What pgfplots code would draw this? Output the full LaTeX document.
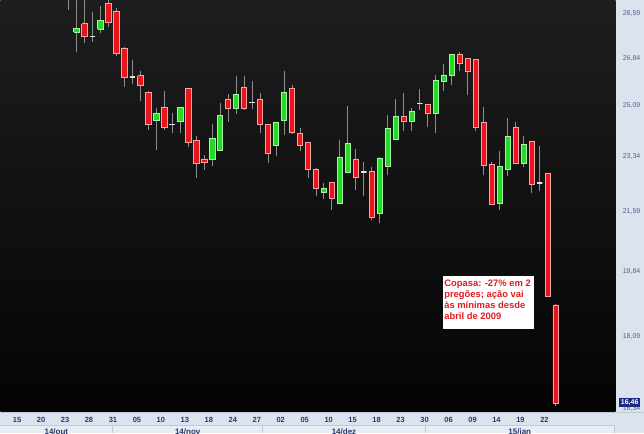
\documentclass[border=0pt]{standalone}
\usepackage{fontspec}
\setmainfont{Liberation Sans}
\usepackage{pgfplots}
\pgfplotsset{compat=1.18}
\definecolor{panel}{HTML}{DDE3EE}
\definecolor{cell}{HTML}{E8ECF4}
\definecolor{cellline}{HTML}{C2CAD8}
\definecolor{daytxt}{HTML}{28396C}
\definecolor{ytxt}{HTML}{53618A}
\definecolor{upfill}{HTML}{22DC22}
\definecolor{updraw}{HTML}{A6F2A6}
\definecolor{dnfill}{HTML}{E8161C}
\definecolor{dndraw}{HTML}{F5A3A3}
\definecolor{dojic}{HTML}{E2E2E2}
\definecolor{wickc}{HTML}{8E8E8E}
\definecolor{navybox}{HTML}{1C2B7E}
\definecolor{notered}{HTML}{E3191E}
\definecolor{bgtop}{HTML}{1E1E1E}
\definecolor{bgbot}{HTML}{040404}
\pgfplotsset{
  cwick/.style={draw=wickc, line width=1pt},
  cup/.style={fill=upfill, draw=updraw, line width=0.7pt},
  cdn/.style={fill=dnfill, draw=dndraw, line width=0.7pt},
  cdoji/.style={draw=dojic, line width=1.4pt},
}
% candle: index, open, high, low, close, style
\newcommand\cndl[6]{%
  \pgfmathsetmacro\cxl{#1-0.34}%
  \pgfmathsetmacro\cxr{#1+0.34}%
  \edef\cndltmp{%
    \noexpand\addplot[cwick] coordinates {(#1,#4) (#1,#3)};%
    \noexpand\addplot[#6] coordinates {(\cxl,#2) (\cxr,#2) (\cxr,#5) (\cxl,#5) (\cxl,#2)};%
  }\cndltmp}
\begin{document}
\begin{tikzpicture}[x=1pt,y=1pt]
\fill[panel] (0,0) rectangle (644,-434);
% month row cells
\fill[cell] (0,-425.5) rectangle (614.5,-434);
\draw[cellline, line width=0.8pt] (0,-412.5) -- (644,-412.5);
\draw[cellline, line width=0.8pt] (0,-425.5) -- (614.5,-425.5);
\draw[cellline, line width=0.8pt] (112.5,-425.5) -- (112.5,-434);
\draw[cellline, line width=0.8pt] (262.5,-425.5) -- (262.5,-434);
\draw[cellline, line width=0.8pt] (425.5,-425.5) -- (425.5,-434);
\draw[cellline, line width=0.8pt] (614.5,-425.5) -- (614.5,-434);
\begin{axis}[
  at={(0,0)}, anchor=north west, scale only axis,
  width=616pt, height=412pt,
  ymode=log, ymin=16.264, ymax=29.161,
  xmin=-2.5, xmax=74.5,
  axis background/.style={top color=bgtop, bottom color=bgbot},
  axis line style={draw=none}, tick style={draw=none}, major tick length=0pt,
  ytick={16.34,18.09,19.84,21.59,23.34,25.09,26.84,28.59},
  yticklabels={{16,34},{18,09},{19,84},{21,59},{23,34},{25,09},{26,84},{28,59}},
  yticklabel pos=right,
  yticklabel style={anchor=west, inner sep=0pt, xshift=7pt, font=\fontsize{7}{8}\selectfont, text=ytxt},
  xtick={0,3,...,66},
  xticklabels={15,20,23,28,31,05,10,13,18,24,27,02,05,10,15,18,23,30,06,09,14,19,22},
  xticklabel style={anchor=center, inner sep=0pt, yshift=-8pt, xshift=-3.3pt, font=\bfseries\fontsize{7.5}{8}\selectfont, text=daytxt},
]
\cndl{6}{29.9}{30.2}{28.75}{29.5}{cdn}
\cndl{7}{27.86}{29.4}{27.07}{28.02}{cup}
\cndl{8}{28.19}{29.4}{27.45}{27.68}{cdn}
\cndl{9}{27.68}{28.67}{27.49}{27.68}{cdoji}
\cndl{10}{27.97}{28.91}{27.82}{28.32}{cup}
\cndl{11}{29.02}{29.2}{28.08}{28.24}{cdn}
\cndl{12}{28.71}{28.82}{26.94}{27.04}{cdn}
\cndl{13}{27.24}{27.26}{25.77}{26.14}{cdn}
\cndl{14}{26.14}{26.79}{25.89}{26.14}{cdoji}
\cndl{15}{26.19}{26.38}{25.28}{25.84}{cdn}
\cndl{16}{25.59}{25.62}{24.24}{24.45}{cdn}
\cndl{17}{24.58}{25.01}{23.58}{24.84}{cup}
\cndl{18}{25.03}{25.64}{24.26}{24.33}{cdn}
\cndl{19}{24.43}{24.84}{24.15}{24.43}{cdoji}
\cndl{20}{24.54}{25.06}{24.15}{25.05}{cup}
\cndl{21}{25.73}{25.75}{23.66}{23.81}{cdn}
\cndl{22}{23.89}{24.03}{22.65}{23.12}{cdn}
\cndl{23}{23.27}{23.41}{22.90}{23.16}{cdn}
\cndl{24}{23.27}{24.46}{23.03}{23.97}{cup}
\cndl{25}{23.56}{25.21}{23.55}{24.75}{cup}
\cndl{26}{25.34}{25.52}{24.54}{25.01}{cdn}
\cndl{27}{25.01}{26.16}{24.82}{25.49}{cup}
\cndl{28}{25.76}{26.19}{24.94}{25.01}{cdn}
\cndl{29}{25.21}{25.98}{24.98}{25.21}{cdoji}
\cndl{30}{25.33}{25.57}{24.15}{24.43}{cdn}
\cndl{31}{24.43}{24.45}{23.14}{23.47}{cdn}
\cndl{32}{23.72}{24.53}{23.36}{24.52}{cup}
\cndl{33}{24.58}{26.35}{24.09}{25.59}{cup}
\cndl{34}{25.71}{25.86}{24.12}{24.15}{cdn}
\cndl{35}{24.12}{24.31}{23.52}{23.73}{cdn}
\cndl{36}{23.83}{23.85}{22.65}{22.92}{cdn}
\cndl{37}{22.94}{22.97}{22.07}{22.33}{cdn}
\cndl{38}{22.19}{22.49}{21.99}{22.33}{cup}
\cndl{39}{22.51}{22.53}{21.66}{22.02}{cdn}
\cndl{40}{21.85}{23.90}{21.84}{23.34}{cup}
\cndl{41}{22.83}{25.09}{22.82}{23.78}{cup}
\cndl{42}{23.27}{23.60}{22.26}{22.68}{cdn}
\cndl{43}{22.85}{23.16}{22.07}{22.85}{cdoji}
\cndl{44}{22.86}{23.01}{21.35}{21.41}{cdn}
\cndl{45}{21.54}{23.32}{21.25}{23.30}{cup}
\cndl{46}{23.03}{24.78}{22.76}{24.31}{cup}
\cndl{47}{23.94}{25.33}{23.93}{24.72}{cup}
\cndl{48}{24.72}{25.55}{24.20}{24.54}{cdn}
\cndl{49}{24.54}{25.01}{24.20}{24.90}{cup}
\cndl{50}{25.17}{25.70}{24.94}{25.17}{cdoji}
\cndl{51}{25.13}{25.17}{24.35}{24.84}{cdn}
\cndl{52}{24.84}{26.22}{24.15}{26.01}{cup}
\cndl{53}{25.98}{26.64}{25.61}{26.22}{cup}
\cndl{54}{26.19}{26.99}{25.86}{26.98}{cup}
\cndl{55}{26.98}{27.10}{26.35}{26.64}{cdn}
\cndl{56}{26.83}{26.85}{25.49}{26.37}{cdn}
\cndl{57}{26.79}{26.80}{24.20}{24.35}{cdn}
\cndl{58}{24.51}{25.05}{22.76}{23.05}{cdn}
\cndl{59}{23.09}{23.16}{21.80}{21.81}{cdn}
\cndl{60}{21.85}{23.52}{21.64}{23.03}{cup}
\cndl{61}{22.94}{24.67}{22.70}{24.03}{cup}
\cndl{62}{24.35}{24.54}{23.10}{23.12}{cdn}
\cndl{63}{23.12}{24.03}{23.01}{23.75}{cup}
\cndl{64}{23.86}{23.88}{22.18}{22.44}{cdn}
\cndl{65}{22.49}{23.69}{22.23}{22.49}{cdoji}
\cndl{66}{22.79}{22.80}{19.15}{19.16}{cdn}
\cndl{67}{18.92}{18.95}{16.39}{16.46}{cdn}
\end{axis}
% last price box
\node[fill=navybox, text=white, font=\bfseries\fontsize{7}{8}\selectfont, inner xsep=1.8pt, inner ysep=1.3pt, anchor=west] at (619.3,-403) {16,46};
% annotation
\fill[white] (442.7,-276) rectangle (534,-329.3);
\node[anchor=north west, inner sep=0pt, align=left, text=notered, font=\bfseries\fontsize{9.4}{11}\selectfont] at (444.3,-280.5) {Copasa: -27\% em 2\\pregões; ação vai\\às mínimas desde\\abril de 2009};
% month labels (cut by the lower edge, as in the reference)
\begin{scope}
\clip (0,-425.5) rectangle (614.5,-434);
\node[overlay, font=\bfseries\fontsize{8}{9}\selectfont, text=daytxt, anchor=base] at (56,-435.5) {14/out};
\node[overlay, font=\bfseries\fontsize{8}{9}\selectfont, text=daytxt, anchor=base] at (187.5,-435.5) {14/nov};
\node[overlay, font=\bfseries\fontsize{8}{9}\selectfont, text=daytxt, anchor=base] at (344,-435.5) {14/dez};
\node[overlay, font=\bfseries\fontsize{8}{9}\selectfont, text=daytxt, anchor=base] at (520,-435.5) {15/jan};
\end{scope}
\end{tikzpicture}
\end{document}
